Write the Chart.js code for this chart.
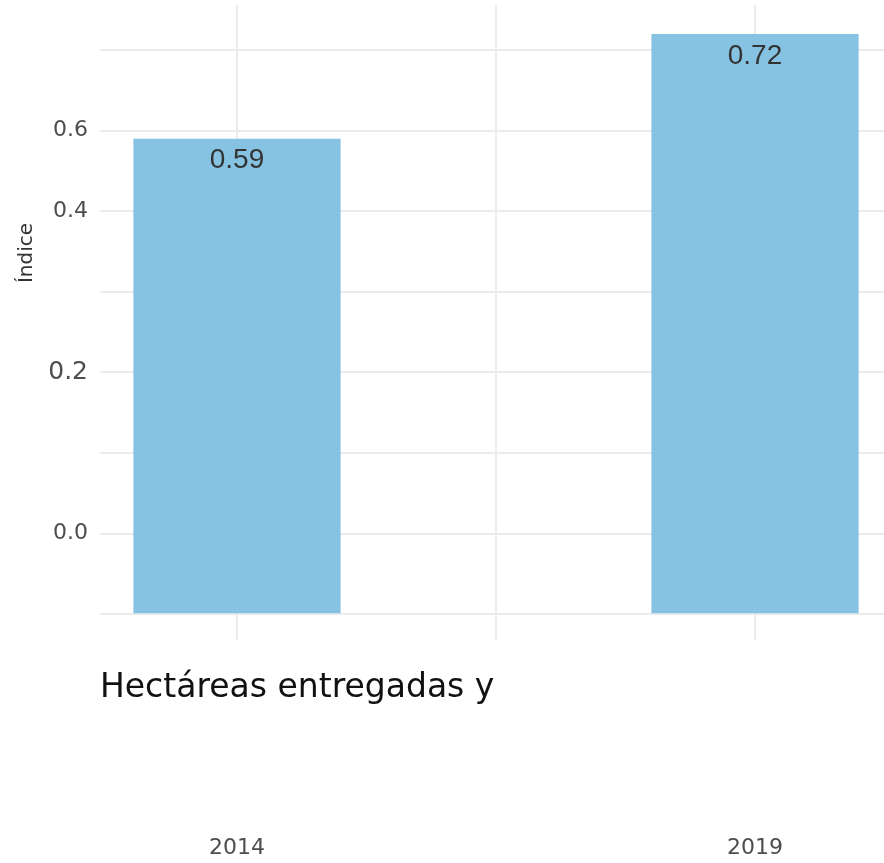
<!DOCTYPE html>
<html><head><meta charset="utf-8">
<script src="https://cdn.jsdelivr.net/npm/chart.js@4/dist/chart.umd.min.js"></script>
<style>html,body{margin:0;padding:0;background:#fff}#wrap{width:884px;height:863px;position:relative}</style>
</head><body><div id="wrap"><canvas id="c"></canvas></div>
<script>
// ---- data ----
const categories = ["2014", "2019"];
const values = [0.59, 0.72];
const yGridValues = [0, 0.1, 0.2, 0.3, 0.4, 0.5, 0.6, 0.7];
const yTickLabels = {"0.1": "0.0", "0.3": "0.2", "0.5": "0.4", "0.6": "0.6"};
const xGridValues = [1, 1.5, 2];
const xTitle = "Hectáreas entregadas y";
const yTitle = "Índice";

const positions = categories.map((c, i) => i + 1);
const barData = positions.map((x, i) => ({x: x, y: values[i]}));

const GRID = '#EBEBEB';
const AXIS_FONT = 'DejaVu Sans';

const valueLabelPlugin = {
  id: 'valueLabels',
  afterDatasetsDraw(chart) {
    const ctx = chart.ctx;
    const meta = chart.getDatasetMeta(0);
    ctx.save();
    ctx.font = '28px "Liberation Sans", Arial, sans-serif';
    ctx.fillStyle = '#333333';
    ctx.textAlign = 'center';
    ctx.textBaseline = 'middle';
    meta.data.forEach((bar, i) => {
      ctx.fillText(values[i].toFixed(2), bar.x, bar.y + 22);
    });
    ctx.restore();
  }
};

const yTitlePlugin = {
  id: 'yTitle',
  afterDraw(chart) {
    const ctx = chart.ctx;
    ctx.save();
    ctx.translate(27, 253);
    ctx.rotate(-Math.PI / 2);
    ctx.font = '20px "' + AXIS_FONT + '"';
    ctx.fillStyle = '#333333';
    ctx.textAlign = 'center';
    ctx.textBaseline = 'middle';
    ctx.fillText(yTitle, 0, 0);
    ctx.restore();
  }
};

const zeroPad = (s) => { s.paddingTop = 0; s.paddingBottom = 0; s.paddingLeft = 0; s.paddingRight = 0; };

new Chart(document.getElementById('c'), {
  type: 'bar',
  data: {
    datasets: [{
      data: barData,
      backgroundColor: '#86C3E3',
      borderWidth: 0,
      barPercentage: 0.8,
      categoryPercentage: 1.0
    }]
  },
  options: {
    responsive: true,
    maintainAspectRatio: false,
    animation: false,
    layout: {padding: {top: 5, right: 0, left: 0, bottom: 0}},
    plugins: {legend: {display: false}, tooltip: {enabled: false}},
    scales: {
      x: {
        type: 'linear',
        position: 'bottom',
        weight: 0,
        offset: false,
        min: 0.7355,
        max: 2.249,
        afterBuildTicks: (s) => { s.ticks = xGridValues.map(v => ({value: v})); },
        afterFit: (s) => { s.height = 80; zeroPad(s); },
        grid: {color: GRID, lineWidth: 2, drawTicks: false, offset: false},
        border: {display: false},
        ticks: {display: false},
        title: {
          display: true,
          text: xTitle,
          align: 'start',
          color: '#111111',
          font: {family: AXIS_FONT, size: 33},
          padding: {top: 0, bottom: 12}
        }
      },
      x2: {
        type: 'linear',
        position: 'bottom',
        weight: 1,
        offset: false,
        min: 0.7355,
        max: 2.249,
        afterBuildTicks: (s) => { s.ticks = positions.map(v => ({value: v})); },
        afterFit: (s) => { s.height = 143; zeroPad(s); },
        grid: {display: false, drawTicks: false, offset: false},
        border: {display: false},
        ticks: {
          padding: 115,
          color: '#4D4D4D',
          font: {family: AXIS_FONT, size: 22},
          maxRotation: 0,
          autoSkip: false,
          callback: (v) => categories[Math.round(v) - 1]
        }
      },
      y: {
        type: 'linear',
        min: -0.032,
        max: 0.756,
        afterBuildTicks: (s) => { s.ticks = yGridValues.map(v => ({value: v})); },
        afterFit: (s) => { s.width = 100; zeroPad(s); },
        grid: {color: GRID, lineWidth: 2, drawTicks: false},
        border: {display: false},
        ticks: {
          padding: 12,
          color: '#4D4D4D',
          autoSkip: false,
          font: (ctx) => ({family: AXIS_FONT, size: (ctx.tick && Math.abs(ctx.tick.value - 0.3) < 1e-6) ? 25 : 22}),
          callback: (v) => yTickLabels[(Math.round(v * 10) / 10).toString()] || ''
        }
      }
    }
  },
  plugins: [valueLabelPlugin, yTitlePlugin]
});
</script>
</body></html>
